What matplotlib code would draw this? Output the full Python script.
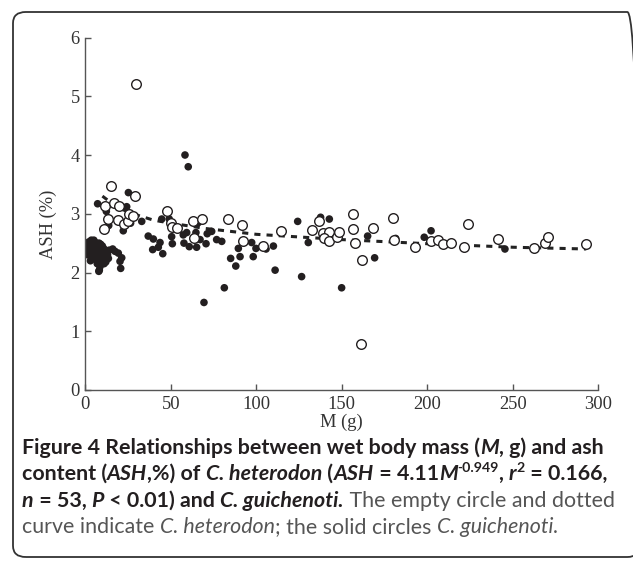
import numpy as np
import matplotlib
matplotlib.use("Agg")
import matplotlib.pyplot as plt
from matplotlib.patches import FancyBboxPatch
from matplotlib.font_manager import FontProperties

# C. heterodon (open circles)
het_m = [15.1, 11.5, 16.8, 19.7, 29.3, 13.1, 11.0, 19.0, 22.6, 25.2, 25.6, 28.0,
         48.0, 50.0, 50.5, 53.8, 62.8, 68.0, 63.6, 83.5, 91.8, 92.2, 29.6, 161.0,
         114.4, 104.1, 132.4, 136.8, 138.8, 142.7, 139.6, 142.7, 147.4, 148.5,
         156.4, 156.4, 157.7, 161.6, 168.0, 180.1, 180.7, 193.0, 202.2, 206.0,
         209.4, 214.0, 221.6, 224.0, 241.5, 262.2, 268.6, 270.8, 292.6]
het_ash = [3.48, 3.14, 3.18, 3.14, 3.30, 2.91, 2.74, 2.90, 2.83, 2.88, 3.00, 2.96,
           3.05, 2.84, 2.77, 2.75, 2.87, 2.91, 2.58, 2.91, 2.81, 2.54, 5.21, 0.78,
           2.70, 2.45, 2.72, 2.88, 2.67, 2.69, 2.59, 2.53, 2.60, 2.69,
           3.00, 2.74, 2.51, 2.21, 2.75, 2.92, 2.56, 2.44, 2.54, 2.56,
           2.49, 2.50, 2.44, 2.83, 2.57, 2.42, 2.51, 2.60, 2.49]

# C. guichenoti (solid circles)
gui_m = [1, 1.5, 2, 2, 2.5, 3, 3, 3.5, 4, 4, 4.5, 5, 5, 5.5, 6, 6, 6.5, 7, 7, 7.5,
         8, 8, 8.5, 9, 9, 9.5, 10, 10, 10.5, 11, 11.5, 12, 12, 13, 13.5, 14, 3, 5,
         7, 9, 11, 2, 6,
         16.0, 17.4, 21.3, 20.3, 20.7, 8.2, 7.9, 8.6, 19.3, 12.5,
         7.2, 12.3, 13.7, 25.2, 24.2, 22.2, 26.5, 33.0, 36.8, 39.8, 39.4, 42.7,
         43.7, 45.3, 44.7, 49.1, 50.5, 50.9, 58.3, 60.2, 57.3, 59.3, 60.8, 57.7,
         64.7, 65.1, 66.1, 67.1, 69.4, 70.6, 71.3, 73.9, 76.8, 81.3, 79.8, 85.0,
         88.0, 89.5, 90.5,
         97.3, 98.2, 99.8, 105.7, 110.0, 111.0, 124.2, 126.5, 130.4, 137.6,
         142.7, 149.9, 165.1, 169.2, 181.5, 198.2, 202.2, 245.4]
gui_ash = [2.45, 2.30, 2.52, 2.38, 2.42, 2.48, 2.33, 2.55, 2.40, 2.28, 2.50, 2.35,
           2.45, 2.52, 2.30, 2.40, 2.48, 2.25, 2.38, 2.45, 2.33, 2.50, 2.20, 2.42,
           2.28, 2.36, 2.45, 2.22, 2.32, 2.40, 2.27, 2.35, 2.18, 2.30, 2.24, 2.38,
           2.20, 2.55, 2.15, 2.48, 2.15, 2.40, 2.22,
           2.40, 2.36, 2.25, 2.19, 2.07, 2.04, 2.02, 2.10, 2.33, 2.77,
           3.17, 3.04, 2.80, 3.36, 3.12, 2.71, 2.84, 2.87, 2.62, 2.57, 2.39, 2.43,
           2.51, 2.32, 2.91, 2.91, 2.61, 2.49, 4.00, 3.80, 2.64, 2.68, 2.44, 2.50,
           2.68, 2.43, 2.85, 2.56, 1.49, 2.49, 2.66, 2.70, 2.56, 1.74, 2.53, 2.24,
           2.11, 2.41, 2.27,
           2.51, 2.27, 2.41, 2.40, 2.45, 2.04, 2.87, 1.93, 2.51, 2.94,
           2.91, 1.74, 2.62, 2.25, 2.58, 2.60, 2.71, 2.40]

# dotted fitted curve for C. heterodon
fit_m = [10, 15, 20, 30, 40, 50, 70, 100, 150, 200, 250, 293]
fit_ash = [3.30, 3.19, 3.09, 2.98, 2.89, 2.84, 2.75, 2.65, 2.56, 2.49, 2.43, 2.40]

W, H = 633, 562
fig = plt.figure(figsize=(W / 100, H / 100), dpi=100)

# rounded frame around the figure
frame = FancyBboxPatch((13 / W, 1 - 557 / H), (640 - 13) / W, (557 - 12) / H,
                       boxstyle="round,pad=0,rounding_size=0.02",
                       transform=fig.transFigure, fill=False,
                       edgecolor="#333333", linewidth=1.3)
fig.patches.append(frame)

ax = fig.add_axes([85.3 / W, 1 - 390 / H, 513 / W, 352.5 / H])
serif = "Liberation Serif"
axc = "#555555"

ax.plot(fit_m, fit_ash, color="#222222", lw=2.2, linestyle=(0, (2.0, 2.0)), zorder=1)
ax.scatter(gui_m, gui_ash, s=30, color="#231f20", edgecolors="none", zorder=2)
ax.scatter(het_m, het_ash, s=48, facecolors="white", edgecolors="#231f20",
           linewidths=1.0, zorder=3)

ax.set_xlim(0, 300)
ax.set_ylim(0, 6)
ax.set_xticks([0, 50, 100, 150, 200, 250, 300])
ax.set_yticks([0, 1, 2, 3, 4, 5, 6])
for s in ["top", "right"]:
    ax.spines[s].set_visible(False)
for s in ["left", "bottom"]:
    ax.spines[s].set_color(axc)
    ax.spines[s].set_linewidth(1.0)
ax.tick_params(direction="in", length=4, width=1.0, color=axc, pad=4,
               labelsize=13.3, labelcolor="#333333")
for lab in ax.get_xticklabels() + ax.get_yticklabels():
    lab.set_fontfamily(serif)
ax.set_xlabel("M (g)", fontfamily=serif, fontsize=13.3, color="#333333", labelpad=1)
ax.set_ylabel("ASH (%)", fontfamily=serif, fontsize=13.3, color="#333333")
ax.yaxis.set_label_coords(-0.055, 0.47)
ax.patch.set_alpha(0)

# caption, drawn piece by piece so bold / italic / regular can be mixed
cap_font = "Lato"
cap_size = 15.4
dark = "#231f20"
grey = "#555555"
B, BI, R, I = ("bold", "normal"), ("bold", "italic"), ("normal", "normal"), ("normal", "italic")

lines = [
    [("Figure 4 Relationships between wet body mass (", B, 0), ("M", BI, 0), (", g) and ash", B, 0)],
    [("content (", B, 0), ("ASH", BI, 0), (",%) of ", B, 0), ("C. heterodon", BI, 0), (" (", B, 0),
     ("ASH", BI, 0), (" = 4.11", B, 0), ("M", BI, 0), ("-0.949", B, 1), (", ", B, 0), ("r", BI, 0),
     ("2", B, 1), (" = 0.166,", B, 0)],
    [("n", BI, 0), (" = 53, ", B, 0), ("P", BI, 0), (" < 0.01) and ", B, 0), ("C. guichenoti.", BI, 0),
     (" The empty circle and dotted", R, 0)],
    [("curve indicate ", R, 0), ("C. heterodon", I, 0), ("; the solid circles ", R, 0),
     ("C. guichenoti", I, 0), (".", R, 0)],
]
baselines = [454, 480, 507, 533]

renderer = fig.canvas.get_renderer()


def text_width(txt, fp):
    t1 = fig.text(0, 0, txt + "|", fontproperties=fp)
    t2 = fig.text(0, 0, "|", fontproperties=fp)
    w = t1.get_window_extent(renderer).width - t2.get_window_extent(renderer).width
    t1.remove()
    t2.remove()
    return w


for segs, yb in zip(lines, baselines):
    x = 22.0
    for txt, (weight, style), sup in segs:
        size = cap_size * 0.66 if sup else cap_size
        fp = FontProperties(family=cap_font, weight=weight, style=style, size=size)
        y = yb - (cap_size * 0.55 if sup else 0)
        col = dark if weight == "bold" else grey
        fig.text(x / W, 1 - y / H, txt, fontproperties=fp, color=col, va="baseline", ha="left")
        x += text_width(txt, fp)

fig.savefig("out.png", dpi=100)
